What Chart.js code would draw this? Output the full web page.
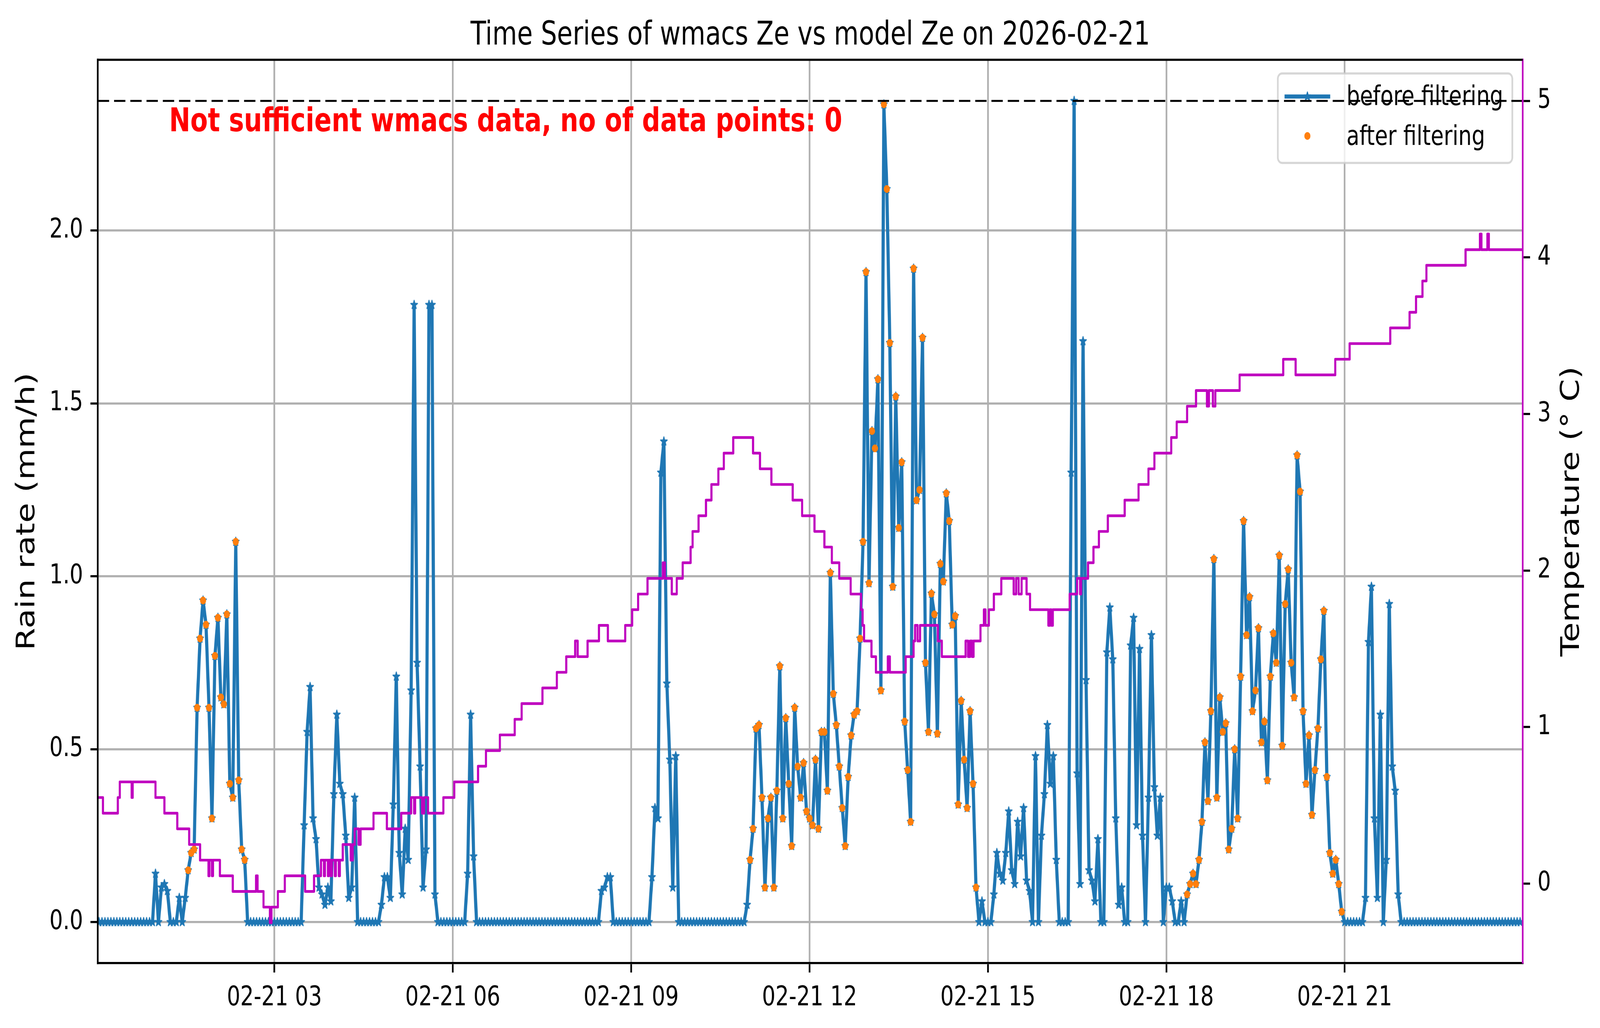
<!DOCTYPE html>
<html>
<head>
<meta charset="utf-8">
<title>wmacs Ze vs model Ze</title>
<script src="https://cdn.jsdelivr.net/npm/chart.js@4.4.1/dist/chart.umd.min.js"></script>
<style>
  html, body { margin: 0; padding: 0; background: #fff; overflow: hidden; }
  canvas { display: block; }
</style>
</head>
<body>
<!-- drawn at 5219x2631, shown in whatever window we get -->
<canvas id="chart" width="5219" height="2631" style="width:100vw;height:100vh"></canvas>
<script>
// ---- data (time in minutes after 2026-02-21 00:00) ----
const rainStep = 3; // minutes between rain samples

// rain rate (mm/h), one row per hour
const rainValues = [
  0,0,0,0,0,0,0,0,0,0, 0,0,0,0,0,0,0,0,0,0,
  0.14,0,0.1,0.11,0.09,0,0,0,0.07,0, 0.07,0.15,0.2,0.21,0.62,0.82,0.93,0.86,0.62,0.3,
  0.77,0.88,0.65,0.63,0.89,0.4,0.36,1.1,0.41,0.21, 0.18,0,0,0,0,0,0,0,0,0,
  0,0,0,0,0,0,0,0,0,0, 0.28,0.55,0.68,0.3,0.24,0.1,0.08,0.05,0.1,0.06,
  0.37,0.6,0.4,0.37,0.25,0.07,0.1,0.36,0,0, 0,0,0,0,0,0,0.05,0.13,0.13,0.07,
  0.34,0.71,0.2,0.08,0.27,0.18,0.67,1.785,0.75,0.45, 0.1,0.21,1.785,1.785,0.08,0,0,0,0,0,
  0,0,0,0,0,0.14,0.6,0.19,0,0, 0,0,0,0,0,0,0,0,0,0,
  0,0,0,0,0,0,0,0,0,0, 0,0,0,0,0,0,0,0,0,0,
  0,0,0,0,0,0,0,0,0,0, 0.09,0.1,0.13,0.13,0,0,0,0,0,0,
  0,0,0,0,0,0,0,0.13,0.33,0.3, 1.3,1.39,0.69,0.47,0.1,0.48,0,0,0,0,
  0,0,0,0,0,0,0,0,0,0, 0,0,0,0,0,0,0,0,0,0.05,
  0.18,0.27,0.56,0.57,0.36,0.1,0.3,0.36,0.1,0.38, 0.74,0.3,0.59,0.4,0.22,0.62,0.45,0.36,0.46,0.32,
  0.3,0.28,0.47,0.27,0.55,0.55,0.38,1.01,0.66,0.57, 0.45,0.33,0.22,0.42,0.54,0.6,0.61,0.82,1.1,1.88,
  0.98,1.42,1.37,1.57,0.67,2.365,2.12,1.675,0.97,1.52, 1.14,1.33,0.58,0.44,0.29,1.89,1.22,1.25,1.69,0.75,
  0.55,0.95,0.89,0.545,1.036,0.985,1.24,1.16,0.86,0.885, 0.34,0.64,0.47,0.33,0.61,0.4,0.1,0,0.06,0,
  0,0,0.08,0.2,0.14,0.12,0.2,0.32,0.15,0.11, 0.29,0.19,0.33,0.12,0.09,0,0.48,0,0.25,0.37,
  0.57,0.4,0.48,0.18,0,0,0,0,1.3,2.375, 0.43,0.11,1.68,0.7,0.15,0.12,0.06,0.24,0,0,
  0.78,0.91,0.76,0.3,0.05,0.1,0,0,0.8,0.88, 0.28,0.79,0.25,0,0.36,0.83,0.39,0.25,0.36,0,
  0.1,0.1,0.06,0,0,0.06,0,0.08,0.11,0.14, 0.11,0.18,0.29,0.52,0.35,0.61,1.05,0.36,0.65,0.55,
  0.575,0.21,0.27,0.5,0.3,0.71,1.16,0.83,0.94,0.61, 0.67,0.85,0.52,0.58,0.41,0.71,0.835,0.75,1.06,0.51,
  0.92,1.02,0.75,0.65,1.35,1.245,0.61,0.4,0.54,0.31, 0.44,0.56,0.76,0.9,0.42,0.2,0.14,0.18,0.11,0.03,
  0,0,0,0,0,0,0,0.07,0.81,0.97, 0.3,0.07,0.6,0,0.18,0.92,0.45,0.38,0.08,0,
  0,0,0,0,0,0,0,0,0,0, 0,0,0,0,0,0,0,0,0,0,
  0,0,0,0,0,0,0,0,0,0, 0,0,0,0,0,0,0,0,0,0
];

// periods (minutes) whose samples survive the filter
const keptWindows = [[92, 151], [659, 889], [1101, 1258]];

// temperature (deg C): value taken from each listed minute onwards
const tempTimes = [
  0, 7, 22, 24, 36, 37, 60, 69, 82, 94,
  105, 113.5, 114.5, 117, 118, 125, 138, 161.5, 163, 169,
  175.5, 177, 183.5, 190.5, 211, 220, 227, 230, 231, 234,
  235, 237, 238, 241, 242, 245, 246, 249, 257, 259,
  261, 265, 267, 280, 293.5, 308, 318, 321, 322, 329,
  331, 335, 350.5, 361.5, 385.5, 393.5, 407.5, 422.5, 429.5, 450.5,
  465, 474.5, 483.5, 486, 496, 507.5, 516.5, 534, 541, 547,
  556.5, 572, 574, 581, 586, 592, 600, 602, 608, 615.5,
  621, 628, 633.5, 643, 663, 670, 681.5, 703, 712.5, 725,
  735, 742.5, 750, 761.5, 772, 773.5, 775, 782.5, 787, 799,
  801, 817, 825, 826.5, 829, 831.5, 849.5, 853.5, 877.5, 880,
  882, 884, 885.5, 892.5, 896, 897.5, 901, 906, 913.5, 926,
  928.5, 931, 934, 939, 942.5, 961, 962.5, 964, 965.5, 982.5,
  990, 993, 994, 1001, 1006.5, 1012, 1021, 1038, 1052, 1062,
  1068, 1085, 1090.5, 1101, 1110, 1121, 1123, 1127, 1129.5, 1154,
  1198, 1210.5, 1250.5, 1265, 1306, 1325.5, 1332, 1338.5, 1342.5, 1382,
  1396.5, 1398, 1404, 1405.5, 1440
];
const tempValues = [
  0.55, 0.45, 0.55, 0.65, 0.55, 0.65, 0.55, 0.45, 0.35, 0.25,
  0.15, 0.05, 0.15, 0.05, 0.15, 0.05, -0.05, 0.05, -0.05, -0.15,
  -0.25, -0.15, -0.05, 0.05, -0.05, 0.05, 0.15, 0.05, 0.15, 0.05,
  0.15, 0.05, 0.15, 0.05, 0.15, 0.05, 0.15, 0.25, 0.15, 0.25,
  0.35, 0.25, 0.35, 0.45, 0.35, 0.45, 0.55, 0.45, 0.55, 0.45,
  0.55, 0.45, 0.55, 0.65, 0.75, 0.85, 0.95, 1.05, 1.15, 1.25,
  1.35, 1.45, 1.55, 1.45, 1.55, 1.65, 1.55, 1.65, 1.75, 1.85,
  1.95, 2.05, 1.95, 1.85, 1.95, 2.05, 2.15, 2.25, 2.35, 2.45,
  2.55, 2.65, 2.75, 2.85, 2.75, 2.65, 2.55, 2.45, 2.35, 2.25,
  2.15, 2.05, 1.95, 1.85, 1.75, 1.65, 1.55, 1.45, 1.35, 1.45,
  1.35, 1.45, 1.55, 1.65, 1.55, 1.65, 1.55, 1.45, 1.55, 1.45,
  1.55, 1.45, 1.55, 1.65, 1.75, 1.65, 1.75, 1.85, 1.95, 1.85,
  1.95, 1.85, 1.95, 1.85, 1.75, 1.65, 1.75, 1.65, 1.75, 1.85,
  1.95, 1.85, 1.95, 2.05, 2.15, 2.25, 2.35, 2.45, 2.55, 2.65,
  2.75, 2.85, 2.95, 3.05, 3.15, 3.05, 3.15, 3.05, 3.15, 3.25,
  3.35, 3.25, 3.35, 3.45, 3.55, 3.65, 3.75, 3.85, 3.95, 4.05,
  4.15, 4.05, 4.15, 4.05, 4.05
];

const refTemp = 5; // dashed reference level on the temperature axis

const tickHours = [3, 6, 9, 12, 15, 18, 21];
const tickLabels = ['02-21 03', '02-21 06', '02-21 09', '02-21 12', '02-21 15', '02-21 18', '02-21 21'];
const rainTicks = [0, 0.5, 1.0, 1.5, 2.0];
const tempTicks = [0, 1, 2, 3, 4, 5];

const xRange = [1.8, 1439.7];
const rainRange = [-0.1188, 2.4938];
const tempRange = [-0.508, 5.263];

const titleText = 'Time Series of wmacs Ze vs model Ze on 2026-02-21';
const noteText = 'Not sufficient wmacs data, no of data points: 0';
const rainLabel = 'Rain rate (mm/h)';
const tempLabel = 'Temperature (\u00b0 C)';

// ---- build datasets ----
const BLUE = '#1f77b4', ORANGE = '#ff7f0e', MAGENTA = '#bf00bf';
const FONT = '"DejaVu Sans", "Liberation Sans", sans-serif';

const rainTimes = rainValues.map((v, i) => i * rainStep);
const beforePts = rainValues.map((v, i) => ({ x: rainTimes[i], y: v }));
const afterPts = beforePts.filter(p =>
  p.y > 0 && keptWindows.some(w => p.x >= w[0] && p.x <= w[1]));
const tempPts = tempTimes.map((t, i) => ({ x: t, y: tempValues[i] }));
const refPts = [{ x: xRange[0], y: refTemp }, { x: xRange[1], y: refTemp }];

// filled five point star like matplotlib's '*' marker
function starMarker(r, color) {
  const pad = 3;
  const size = Math.ceil(2 * r + 2 * pad);
  const c = document.createElement('canvas');
  c.width = size;
  c.height = size;
  const g = c.getContext('2d');
  g.translate(size / 2, size / 2);
  g.beginPath();
  for (let k = 0; k < 10; k++) {
    const rr = k % 2 ? r * 0.382 : r;
    const a = -Math.PI / 2 + k * Math.PI / 5;
    g.lineTo(rr * Math.cos(a), rr * Math.sin(a));
  }
  g.closePath();
  g.fillStyle = color;
  g.fill();
  g.lineWidth = 3;
  g.lineJoin = 'round';
  g.strokeStyle = color;
  g.stroke();
  return c;
}
const star = starMarker(11.5, BLUE);

function roundRectPath(ctx, x, y, w, h, r) {
  ctx.beginPath();
  ctx.moveTo(x + r, y);
  ctx.lineTo(x + w - r, y);
  ctx.arcTo(x + w, y, x + w, y + r, r);
  ctx.lineTo(x + w, y + h - r);
  ctx.arcTo(x + w, y + h, x + w - r, y + h, r);
  ctx.lineTo(x + r, y + h);
  ctx.arcTo(x, y + h, x, y + h - r, r);
  ctx.lineTo(x, y + r);
  ctx.arcTo(x, y, x + r, y, r);
  ctx.closePath();
}

// text, legend and top spine
const overlay = {
  id: 'overlay',
  beforeDatasetDraw(chart, args) {
    if (args.index !== 2) return; // ax1 items go under the temperature axis
    const ctx = chart.ctx, a = chart.chartArea;
    ctx.save();
    // red note
    ctx.font = 'bold 83px ' + FONT;
    ctx.fillStyle = '#ff0000';
    ctx.textAlign = 'left';
    ctx.textBaseline = 'alphabetic';
    ctx.fillText(noteText, a.left + 0.05 * (a.right - a.left), a.top + 0.079 * (a.bottom - a.top));

    // legend
    const w = 765, h = 229;
    const x = a.right - 34 - w, y = a.top + 35;
    roundRectPath(ctx, x, y, w, h, 14);
    ctx.fillStyle = 'rgba(255,255,255,0.8)';
    ctx.fill();
    ctx.lineWidth = 5.5;
    ctx.strokeStyle = 'rgba(204,204,204,0.8)';
    ctx.stroke();

    const y1 = y + 59, y2 = y + 160, hx = x + 96.5;
    ctx.strokeStyle = BLUE;
    ctx.lineWidth = 10.3;
    ctx.beginPath();
    ctx.moveTo(x + 22, y1);
    ctx.lineTo(x + 171, y1);
    ctx.stroke();
    ctx.drawImage(star, hx - star.width / 2, y1 - star.height / 2);
    ctx.fillStyle = ORANGE;
    ctx.beginPath();
    ctx.arc(hx, y2, 10, 0, Math.PI * 2);
    ctx.fill();

    ctx.fillStyle = '#000';
    ctx.font = '69px ' + FONT;
    ctx.fillText(chart.data.datasets[0].label, x + 224, y + 81);
    ctx.fillText(chart.data.datasets[1].label, x + 224, y + 183);
    ctx.restore();
  },
  afterDraw(chart) {
    const ctx = chart.ctx, a = chart.chartArea;
    ctx.save();
    // top spine
    ctx.strokeStyle = '#000';
    ctx.lineWidth = 5.5;
    ctx.beginPath();
    ctx.moveTo(a.left - 2.75, a.top);
    ctx.lineTo(a.right, a.top);
    ctx.stroke();

    ctx.fillStyle = '#000';
    ctx.textBaseline = 'alphabetic';
    ctx.textAlign = 'center';
    ctx.font = '83px ' + FONT;
    ctx.fillText(titleText, (a.left + a.right) / 2, 114);

    const midY = (a.top + a.bottom) / 2;
    ctx.translate(112, midY);
    ctx.rotate(-Math.PI / 2);
    ctx.fillText(rainLabel, 0, 0);
    ctx.restore();

    ctx.save();
    ctx.fillStyle = '#000';
    ctx.textBaseline = 'alphabetic';
    ctx.textAlign = 'center';
    ctx.font = '83px ' + FONT;
    ctx.translate(5150, midY);
    ctx.rotate(-Math.PI / 2);
    ctx.fillText(tempLabel, 0, 0);
    ctx.restore();
  }
};

const tickFont = { family: FONT, size: 69 };
const gridStyle = { color: '#b0b0b0', lineWidth: 5.5, tickColor: '#000', tickLength: 24, tickWidth: 5.5 };

new Chart(document.getElementById('chart'), {
  type: 'line',
  data: {
    datasets: [
      {
        label: 'before filtering',
        data: beforePts,
        yAxisID: 'y',
        borderColor: BLUE,
        backgroundColor: BLUE,
        borderWidth: 10.3,
        borderJoinStyle: 'round',
        pointStyle: star,
        pointRadius: 11,
        tension: 0,
        clip: 0,
        order: 4
      },
      {
        label: 'after filtering',
        data: afterPts,
        yAxisID: 'y',
        showLine: false,
        pointStyle: 'circle',
        pointRadius: 10,
        pointBorderWidth: 0,
        pointBackgroundColor: ORANGE,
        borderColor: ORANGE,
        clip: 0,
        order: 3
      },
      {
        label: 'temperature',
        data: tempPts,
        yAxisID: 'y2',
        borderColor: MAGENTA,
        borderWidth: 6.9,
        borderJoinStyle: 'round',
        stepped: 'before',
        pointRadius: 0,
        clip: 0,
        order: 2
      },
      {
        label: 'reference',
        data: refPts,
        yAxisID: 'y2',
        borderColor: '#000',
        borderWidth: 5,
        borderDash: [37, 16],
        pointRadius: 0,
        clip: 0,
        order: 1
      }
    ]
  },
  options: {
    responsive: false,
    devicePixelRatio: 1,
    animation: false,
    events: [],
    layout: { padding: { top: 153, left: 0, right: 0, bottom: 0 } },
    plugins: {
      legend: { display: false },
      title: { display: false },
      tooltip: { enabled: false }
    },
    scales: {
      x: {
        type: 'linear',
        position: 'bottom',
        min: xRange[0],
        max: xRange[1],
        afterBuildTicks: axis => { axis.ticks = tickHours.map(hr => ({ value: hr * 60 })); },
        afterFit: axis => { axis.height = 166; },
        ticks: {
          callback: (v, i) => tickLabels[i],
          font: tickFont,
          color: '#000',
          padding: 25,
          autoSkip: false,
          maxRotation: 0,
          minRotation: 0
        },
        grid: gridStyle,
        border: { color: '#000', width: 5.5, z: 1 }
      },
      y: {
        type: 'linear',
        position: 'left',
        min: rainRange[0],
        max: rainRange[1],
        afterBuildTicks: axis => { axis.ticks = rainTicks.map(v => ({ value: v })); },
        afterFit: axis => { axis.width = 319; },
        ticks: {
          callback: v => v.toFixed(1),
          font: tickFont,
          color: '#000',
          padding: 24
        },
        grid: gridStyle,
        border: { color: '#000', width: 5.5, z: 1 }
      },
      y2: {
        type: 'linear',
        position: 'right',
        min: tempRange[0],
        max: tempRange[1],
        afterBuildTicks: axis => { axis.ticks = tempTicks.map(v => ({ value: v })); },
        afterFit: axis => { axis.width = 252; },
        ticks: {
          callback: v => String(v),
          font: tickFont,
          color: '#000',
          padding: 24
        },
        grid: { drawOnChartArea: false, tickColor: '#000', tickLength: 24, tickWidth: 5.5 },
        border: { color: MAGENTA, width: 5.5, z: 1 }
      }
    }
  },
  plugins: [overlay]
});
</script>
</body>
</html>
